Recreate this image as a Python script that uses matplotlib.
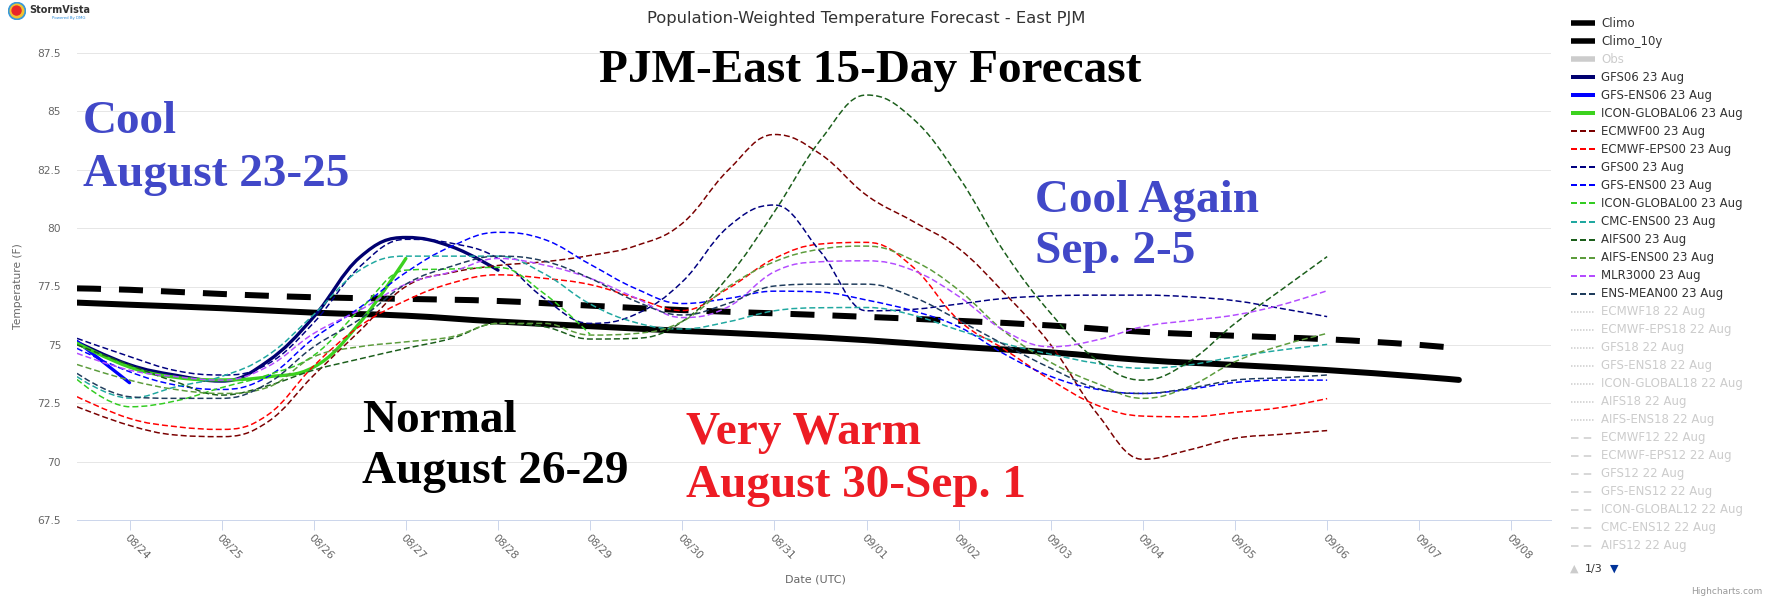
import matplotlib
matplotlib.use("Agg")
import matplotlib.pyplot as plt
from matplotlib.path import Path
from matplotlib.patches import PathPatch, Circle
from matplotlib.lines import Line2D

# ---------------- data (x = days after 08/23 00Z) ----------------
T_CL = [0.43, 1, 2, 3, 4, 5, 6, 7, 8, 9, 10, 11, 12, 13, 14, 15, 15.43]
CLIMO = [76.81, 76.72, 76.57, 76.38, 76.25, 76.0, 75.8, 75.6, 75.42, 75.2,
         74.92, 74.68, 74.35, 74.14, 73.92, 73.64, 73.5]
CLIMO_10Y = [77.42, 77.36, 77.18, 77.04, 76.97, 76.88, 76.68, 76.49, 76.35, 76.2,
             76.03, 75.83, 75.56, 75.39, 75.24, 75.0, 74.85]

T_FC = [0.43, 1.0, 1.5, 2.0, 2.5, 3.0, 3.5, 4.0, 4.5, 5.0, 5.5, 6.0, 6.5, 7.0,
        7.5, 8.0, 8.5, 9.0, 9.5, 10.0, 10.5, 11.0, 11.5, 12.0, 12.5, 13.0, 13.5, 14.0]

GFS06 = [75.12, 74.15, 73.7, 73.45, 74.3, 76.2, 78.75, 79.6, 79.2, 78.2]
GFS_ENS06 = [75.15, 73.38]
ICON_GLOBAL06 = [75.07, 74.05, 73.61, 73.5, 73.63, 74.05, 75.95, 78.7]
ECMWF00 = [72.35, 71.55, 71.14, 71.07, 71.7, 73.7, 75.6, 77.5, 78.1, 78.4, 78.56, 78.83,
           79.25, 80.2, 82.49, 84.01, 83.17, 81.41, 80.3, 79.13, 77.2, 75.0, 72.07, 70.1,
           70.5, 71.0, 71.17, 71.33]
ECMWF_EPS00 = [72.78, 71.85, 71.5, 71.38, 72.0, 74.1, 75.8, 76.9, 77.65, 78.0, 77.85, 77.58,
               77.0, 76.47, 77.42, 78.7, 79.32, 79.39, 78.35, 76.06, 74.8, 73.5, 72.42, 71.95,
               71.92, 72.11, 72.32, 72.7]
GFS00 = [75.28, 74.5, 73.9, 73.71, 74.18, 75.95, 78.35, 79.52, 79.35, 78.7, 77.0, 75.92,
         76.32, 77.7, 80.06, 80.99, 78.99, 76.46, 76.52, 76.75, 76.99, 77.1, 77.13, 77.13,
         77.06, 76.89, 76.56, 76.21]
GFS_ENS00 = [74.85, 73.85, 73.28, 73.09, 73.64, 75.28, 76.6, 78.1, 79.23, 79.82, 79.52, 78.45,
             77.4, 76.77, 76.99, 77.3, 77.26, 76.92, 76.46, 75.78, 74.6, 73.65, 73.1, 72.92,
             73.1, 73.39, 73.49, 73.49]
ICON_GLOBAL00 = [73.52, 72.35, 72.6, 73.17, 73.71, 74.55, 76.5, 78.2, 78.25, 78.32, 77.2, 75.45]
CMC_ENS00 = [73.64, 72.72, 73.2, 73.65, 74.55, 76.3, 78.2, 78.8, 78.8, 78.8, 78.05, 76.75,
             75.95, 75.68, 75.99, 76.46, 76.59, 76.6, 76.28, 75.63, 75.05, 74.6, 74.21, 74.0,
             74.14, 74.49, 74.78, 75.02]
AIFS00 = [75.0, 74.14, 73.42, 72.85, 73.25, 73.92, 74.4, 74.85, 75.28, 75.92, 75.78, 75.25,
          75.28, 76.0, 77.92, 80.7, 83.77, 85.7, 84.7, 82.2, 78.95, 76.35, 74.35, 73.49,
          74.28, 75.92, 77.35, 78.78]
AIFS_ENS00 = [74.16, 73.49, 73.09, 72.92, 73.18, 74.49, 74.92, 75.13, 75.35, 75.92, 75.92, 75.42,
              75.49, 76.0, 77.49, 78.56, 79.1, 79.23, 78.63, 77.35, 75.56, 74.25, 73.35, 72.71,
              73.21, 74.28, 74.97, 75.49]
MLR3000 = [74.64, 73.92, 73.64, 73.49, 74.07, 75.49, 76.49, 77.6, 78.13, 78.7, 78.42, 77.85,
           77.0, 76.17, 76.63, 78.13, 78.56, 78.6, 78.2, 77.08, 75.6, 74.92, 75.21, 75.78,
           76.04, 76.28, 76.71, 77.32]
ENS_MEAN00 = [73.78, 72.78, 72.71, 72.71, 73.35, 74.92, 76.1, 77.6, 78.37, 78.8, 78.59, 77.85,
              76.86, 76.28, 76.78, 77.52, 77.6, 77.6, 77.06, 76.06, 75.0, 74.0, 73.14, 72.92,
              73.14, 73.49, 73.59, 73.71]

X_TICKS = [1, 2, 3, 4, 5, 6, 7, 8, 9, 10, 11, 12, 13, 14, 15, 16]
X_LABELS = ["08/24", "08/25", "08/26", "08/27", "08/28", "08/29", "08/30", "08/31",
            "09/01", "09/02", "09/03", "09/04", "09/05", "09/06", "09/07", "09/08"]
Y_TICKS = [67.5, 70, 72.5, 75, 77.5, 80, 82.5, 85, 87.5]
Y_LABELS = ["67.5", "70", "72.5", "75", "77.5", "80", "82.5", "85", "87.5"]

LEGEND_HIDDEN = ["ECMWF18 22 Aug", "ECMWF-EPS18 22 Aug", "GFS18 22 Aug", "GFS-ENS18 22 Aug",
                 "ICON-GLOBAL18 22 Aug", "AIFS18 22 Aug", "AIFS-ENS18 22 Aug",
                 "ECMWF12 22 Aug", "ECMWF-EPS12 22 Aug", "GFS12 22 Aug", "GFS-ENS12 22 Aug",
                 "ICON-GLOBAL12 22 Aug", "CMC-ENS12 22 Aug", "AIFS12 22 Aug"]

# ---------------- figure ----------------
W, H = 1772, 600
fig = plt.figure(figsize=(W / 100, H / 100), dpi=100)
fig.patch.set_facecolor("white")


def pt(px):
    return px * 72.0 / 100.0


def fx(px):
    return px / W


def fy(py):
    return 1 - py / H


L, R, TOP, BOT = 77, 1551, 53, 520
ax = fig.add_axes([fx(L), fy(BOT), (R - L) / W, (BOT - TOP) / H])
ax.set_xlim(0.43, 16.43)
ax.set_ylim(67.5, 87.5)
for s in ["top", "right", "left"]:
    ax.spines[s].set_visible(False)
ax.spines["bottom"].set_color("#ccd6eb")
ax.spines["bottom"].set_linewidth(pt(1))
ax.spines["bottom"].set_zorder(5)
ax.set_yticks(Y_TICKS)
ax.set_yticklabels(Y_LABELS)
ax.set_xticks(X_TICKS)
ax.set_xticklabels(X_LABELS, rotation=-45, ha="left", va="top", rotation_mode="anchor")
ax.tick_params(axis="y", length=0, pad=pt(16), labelsize=7.7, labelcolor="#666666")
ax.tick_params(axis="x", direction="out", length=pt(10), width=pt(1), color="#ccd6eb",
               pad=pt(3), labelsize=7.7, labelcolor="#666666")
ax.grid(axis="y", color="#e6e6e6", linewidth=pt(1))
ax.set_axisbelow(True)
ax.set_xlabel("Date (UTC)", color="#666666", fontsize=8)
ax.xaxis.set_label_coords((815 - L) / (R - L), (BOT - 575) / (BOT - TOP), transform=ax.transAxes)
ax.set_ylabel("Temperature (F)", color="#666666", fontsize=7.7)
ax.yaxis.set_label_coords((23 - L) / (R - L), 0.5, transform=ax.transAxes)


def hc_spline(xs, ys, smoothing=1.5):
    n = len(xs)
    lc = [None] * n
    rc = [None] * n
    denom = smoothing + 1
    for i in range(1, n - 1):
        x, y = xs[i], ys[i]
        lx, ly = xs[i - 1], ys[i - 1]
        nx, ny = xs[i + 1], ys[i + 1]
        lcx = (smoothing * x + lx) / denom
        lcy = (smoothing * y + ly) / denom
        rcx = (smoothing * x + nx) / denom
        rcy = (smoothing * y + ny) / denom
        if rcx != lcx:
            corr = (rcy - lcy) * (rcx - x) / (rcx - lcx) + y - rcy
            lcy += corr
            rcy += corr
            if lcy > ly and lcy > y:
                lcy = max(ly, y); rcy = 2 * y - lcy
            elif lcy < ly and lcy < y:
                lcy = min(ly, y); rcy = 2 * y - lcy
            if rcy > ny and rcy > y:
                rcy = max(ny, y); lcy = 2 * y - rcy
            elif rcy < ny and rcy < y:
                rcy = min(ny, y); lcy = 2 * y - rcy
        lc[i] = (lcx, lcy)
        rc[i] = (rcx, rcy)
    verts = [(xs[0], ys[0])]
    codes = [Path.MOVETO]
    for i in range(1, n):
        c1 = rc[i - 1] if rc[i - 1] is not None else (xs[i - 1], ys[i - 1])
        c2 = lc[i] if lc[i] is not None else (xs[i], ys[i])
        verts += [c1, c2, (xs[i], ys[i])]
        codes += [Path.CURVE4] * 3
    return Path(verts, codes)


def draw(xs, ys, color, lw_px, dashed, cap="butt", dash=(4, 2), z=3):
    ls = (0, dash) if dashed else "solid"
    p = PathPatch(hc_spline(list(xs), list(ys)), fill=False, edgecolor=color,
                  linewidth=pt(lw_px), linestyle=ls, capstyle=cap, joinstyle="round",
                  zorder=z)
    ax.add_patch(p)


series = [
    ("Climo", T_CL, CLIMO, "#000000", 6, False, "solid"),
    ("Climo_10y", T_CL, CLIMO_10Y, "#000000", 6, True, "thick"),
    ("GFS06 23 Aug", T_FC[:len(GFS06)], GFS06, "#000070", 3.3, False, "solid"),
    ("GFS-ENS06 23 Aug", T_FC[:len(GFS_ENS06)], GFS_ENS06, "#0000ff", 3.3, False, "solid"),
    ("ICON-GLOBAL06 23 Aug", T_FC[:len(ICON_GLOBAL06)], ICON_GLOBAL06, "#3cd21e", 3.3, False, "solid"),
    ("ECMWF00 23 Aug", T_FC, ECMWF00, "#7a0000", 1.5, True, "dash"),
    ("ECMWF-EPS00 23 Aug", T_FC, ECMWF_EPS00, "#ff0000", 1.5, True, "dash"),
    ("GFS00 23 Aug", T_FC, GFS00, "#000080", 1.5, True, "dash"),
    ("GFS-ENS00 23 Aug", T_FC, GFS_ENS00, "#0000ff", 1.5, True, "dash"),
    ("ICON-GLOBAL00 23 Aug", T_FC[:len(ICON_GLOBAL00)], ICON_GLOBAL00, "#33cc22", 1.5, True, "dash"),
    ("CMC-ENS00 23 Aug", T_FC, CMC_ENS00, "#20a8a0", 1.5, True, "dash"),
    ("AIFS00 23 Aug", T_FC, AIFS00, "#1b5e1b", 1.5, True, "dash"),
    ("AIFS-ENS00 23 Aug", T_FC, AIFS_ENS00, "#5c9c3c", 1.5, True, "dash"),
    ("MLR3000 23 Aug", T_FC, MLR3000, "#b44cff", 1.5, True, "dash"),
    ("ENS-MEAN00 23 Aug", T_FC, ENS_MEAN00, "#1f3c5c", 1.5, True, "dash"),
]

for k, (name, xs, ys, col, lw, dashed, kind) in enumerate(series):
    if name == "Climo":
        draw(xs, ys, col, lw, False, cap="round", z=3)
    elif name == "Climo_10y":
        draw(xs, ys, col, lw, True, dash=(4, 3), z=3.1)
    elif dashed:
        draw(xs, ys, col, lw, True, dash=(4, 2), z=3.2 + k * 0.01)
    else:
        draw(xs, ys, col, lw, False, cap="round", z=3.2 + k * 0.01)

# ---------------- legend (right side) ----------------
row0, step = 23.3, 18.02
sx0, sx1, tx = 1571, 1595, 1601
legend_rows = []
for (name, xs, ys, col, lw, dashed, kind) in series[:2]:
    legend_rows.append((name, col, 5.5, "solid", False))
legend_rows.append(("Obs", "#cccccc", 5.5, "solid", True))
for (name, xs, ys, col, lw, dashed, kind) in series[2:]:
    if dashed:
        legend_rows.append((name, col, 2, "dash", False))
    else:
        legend_rows.append((name, col, 4, "solid", False))
for i, name in enumerate(LEGEND_HIDDEN):
    legend_rows.append((name, "#cccccc", 1.5, "dot" if "18 22" in name else "longdash", True))

for i, (name, col, lwpx, sty, hidden) in enumerate(legend_rows):
    yy = row0 + i * step
    if sty == "solid":
        ls = "solid"
    elif sty == "dash":
        ls = (0, (3, 1.5))
    elif sty == "dot":
        ls = (0, (1, 1))
    else:
        ls = (0, (5, 3.5))
    fig.add_artist(Line2D([fx(sx0), fx(sx1)], [fy(yy), fy(yy)], color=col,
                          linewidth=pt(lwpx), linestyle=ls, solid_capstyle="butt",
                          dash_capstyle="butt", transform=fig.transFigure))
    fig.text(fx(tx), fy(yy), name, color="#cccccc" if hidden else "#333333",
             fontsize=8.5, va="center", ha="left", family="DejaVu Sans")

ynav = 569
fig.text(fx(1570), fy(ynav), "\u25B2", color="#cccccc", fontsize=8, va="center", ha="left")
fig.text(fx(1585), fy(ynav), "1/3", color="#333333", fontsize=8, va="center", ha="left")
fig.text(fx(1610), fy(ynav), "\u25BC", color="#003399", fontsize=8, va="center", ha="left")
fig.text(fx(1762), fy(592), "Highcharts.com", color="#999999", fontsize=6.5,
         va="center", ha="right")

# ---------------- titles / logo ----------------
fig.text(fx(866), fy(19), "Population-Weighted Temperature Forecast - East PJM",
         color="#333333", fontsize=11.8, ha="center", va="center", family="DejaVu Sans")

logo = fig.add_axes([fx(8), fy(20), fx(18), 18 / H])
logo.set_xlim(-1, 1); logo.set_ylim(-1, 1); logo.set_aspect("equal"); logo.axis("off")
logo.add_patch(Circle((0, 0), 0.95, color="#3a9ad9"))
logo.add_patch(Circle((0, 0), 0.75, color="#f2c230"))
logo.add_patch(Circle((-0.05, 0.05), 0.5, color="#e8262a"))
fig.text(fx(29), fy(10), "StormVista", color="#333333", fontsize=7, fontweight="bold",
         ha="left", va="center")
fig.text(fx(52), fy(18), "Powered By DMG", color="#2a8ad8", fontsize=2.8,
         ha="left", va="center")

SERIF = "Liberation Serif"
FS = 34
fig.text(fx(870), fy(82), "PJM-East 15-Day Forecast", color="#000000", fontsize=FS,
         fontweight="bold", family=SERIF, ha="center", va="baseline")
BLUE, RED = "#4148c8", "#ed1c24"
notes = [
    ("Cool", 83, 133, BLUE), ("August 23-25", 83, 186, BLUE),
    ("Cool Again", 1035, 212, BLUE), ("Sep. 2-5", 1035, 263, BLUE),
    ("Normal", 362, 432, "#000000"), ("August 26-29", 362, 483, "#000000"),
    ("Very Warm", 686, 444, RED), ("August 30-Sep. 1", 686, 497, RED),
]
for txt, x0, y0, col in notes:
    fig.text(fx(x0), fy(y0), txt, color=col, fontsize=FS, fontweight="bold", family=SERIF,
             ha="left", va="baseline", zorder=10)

fig.savefig("out.png", dpi=100, facecolor="white")
